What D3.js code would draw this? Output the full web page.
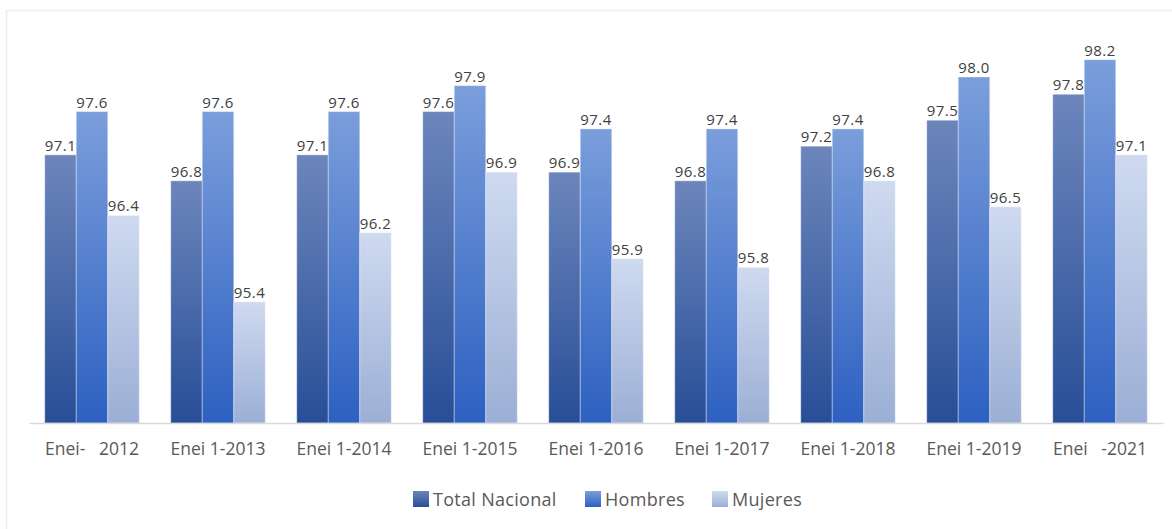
<!DOCTYPE html>
<html>
<head>
<meta charset="utf-8">
<script src="https://cdn.jsdelivr.net/npm/d3@7"></script>
<style>
  body { margin: 0; background: #fff; }
  svg { display: block; font-family: "Open Sans", "Noto Sans", sans-serif; }
</style>
</head>
<body>
<script>
// datos
var categorias = ["Enei-   2012", "Enei 1-2013", "Enei 1-2014", "Enei 1-2015", "Enei 1-2016",
                  "Enei 1-2017", "Enei 1-2018", "Enei 1-2019", "Enei   -2021"];
var totalNacional = [97.1, 96.8, 97.1, 97.6, 96.9, 96.8, 97.2, 97.5, 97.8];
var hombres       = [97.6, 97.6, 97.6, 97.9, 97.4, 97.4, 97.4, 98.0, 98.2];
var mujeres       = [96.4, 95.4, 96.2, 96.9, 95.9, 95.8, 96.8, 96.5, 97.1];
var series = ["Total Nacional", "Hombres", "Mujeres"];

var width = 1172;
var height = 529;

var margen = { arriba: 60, abajo: 106, izquierda: 29, derecha: 9 };

var colores = {
    "Total Nacional": ["#6c86bc", "#284e97"],
    "Hombres": ["#7b9edb", "#2d60c1"],
    "Mujeres": ["#cfdaf0", "#9bafd5"]
};

var datos = categorias.map(function(c, i) {
    return { cat: c, valores: [
        { serie: "Total Nacional", v: totalNacional[i] },
        { serie: "Hombres", v: hombres[i] },
        { serie: "Mujeres", v: mujeres[i] }
    ]};
});

var svg = d3.select("body").append("svg")
    .attr("width", width)
    .attr("height", height);

// gradientes
var defs = svg.append("defs");
series.forEach(function(s, i) {
    var g = defs.append("linearGradient")
        .attr("id", "grad" + i)
        .attr("x1", 0).attr("y1", 0).attr("x2", 0).attr("y2", 1);
    g.append("stop").attr("offset", "0%").attr("stop-color", colores[s][0]);
    g.append("stop").attr("offset", "100%").attr("stop-color", colores[s][1]);
});

// marco
svg.append("path")
    .attr("d", "M6.5," + height + "V10.5H" + width)
    .attr("fill", "none")
    .attr("stroke", "#eeeeee")
    .attr("stroke-width", 1.5);

var escalaX = d3.scaleBand()
    .domain(categorias)
    .range([margen.izquierda, width - margen.derecha])
    .paddingInner(0.25)
    .paddingOuter(0.125);

var escalaSerie = d3.scaleBand()
    .domain(series)
    .range([0, escalaX.bandwidth()]);

var escalaY = d3.scaleLinear()
    .domain([94, 98.2])
    .range([423, 59.7]);

var grupos = svg.selectAll("g.grupo")
    .data(datos)
    .join("g")
    .attr("class", "grupo")
    .attr("transform", function(d) { return "translate(" + escalaX(d.cat) + ",0)"; });

grupos.selectAll("rect")
    .data(function(d) { return d.valores; })
    .join("rect")
    .attr("x", function(d) { return escalaSerie(d.serie); })
    .attr("y", function(d) { return escalaY(d.v); })
    .attr("width", escalaSerie.bandwidth())
    .attr("height", function(d) { return escalaY(94) - escalaY(d.v); })
    .attr("fill", function(d) { return "url(#grad" + series.indexOf(d.serie) + ")"; })
    .attr("stroke", "rgba(255,255,255,0.35)")
    .attr("stroke-width", 1);

grupos.selectAll("text")
    .data(function(d) { return d.valores; })
    .join("text")
    .attr("x", function(d) { return escalaSerie(d.serie) + escalaSerie.bandwidth() / 2; })
    .attr("y", function(d) { return escalaY(d.v) - 4; })
    .attr("text-anchor", "middle")
    .attr("fill", "#404040")
    .style("font-size", "15px")
    .style("letter-spacing", "0.5px")
    .text(function(d) { return d3.format(".1f")(d.v); });

// eje X
var ejeX = d3.axisBottom(escalaX).tickSize(0).tickPadding(20);
var gEje = svg.append("g")
    .attr("transform", "translate(0," + escalaY(94) + ")")
    .call(ejeX);
gEje.select(".domain").attr("stroke", "#d9d9d9").attr("stroke-width", 1.5);
gEje.selectAll("text")
    .attr("fill", "#595959")
    .style("font-size", "17.5px")
    .style("font-family", "'Open Sans', 'Noto Sans', sans-serif")
    .style("white-space", "pre")
    .attr("xml:space", "preserve");

// leyenda
var posLeyenda = [413, 585, 712];
var leyenda = svg.append("g").attr("transform", "translate(0,491)");
series.forEach(function(s, i) {
    var item = leyenda.append("g").attr("transform", "translate(" + posLeyenda[i] + ",0)");
    item.append("rect")
        .attr("width", 16).attr("height", 16)
        .attr("fill", "url(#grad" + i + ")");
    item.append("text")
        .attr("x", 20).attr("y", 15)
        .attr("fill", "#595959")
        .style("font-size", "18px")
        .style("letter-spacing", "0.3px")
        .text(s);
});
</script>
</body>
</html>
